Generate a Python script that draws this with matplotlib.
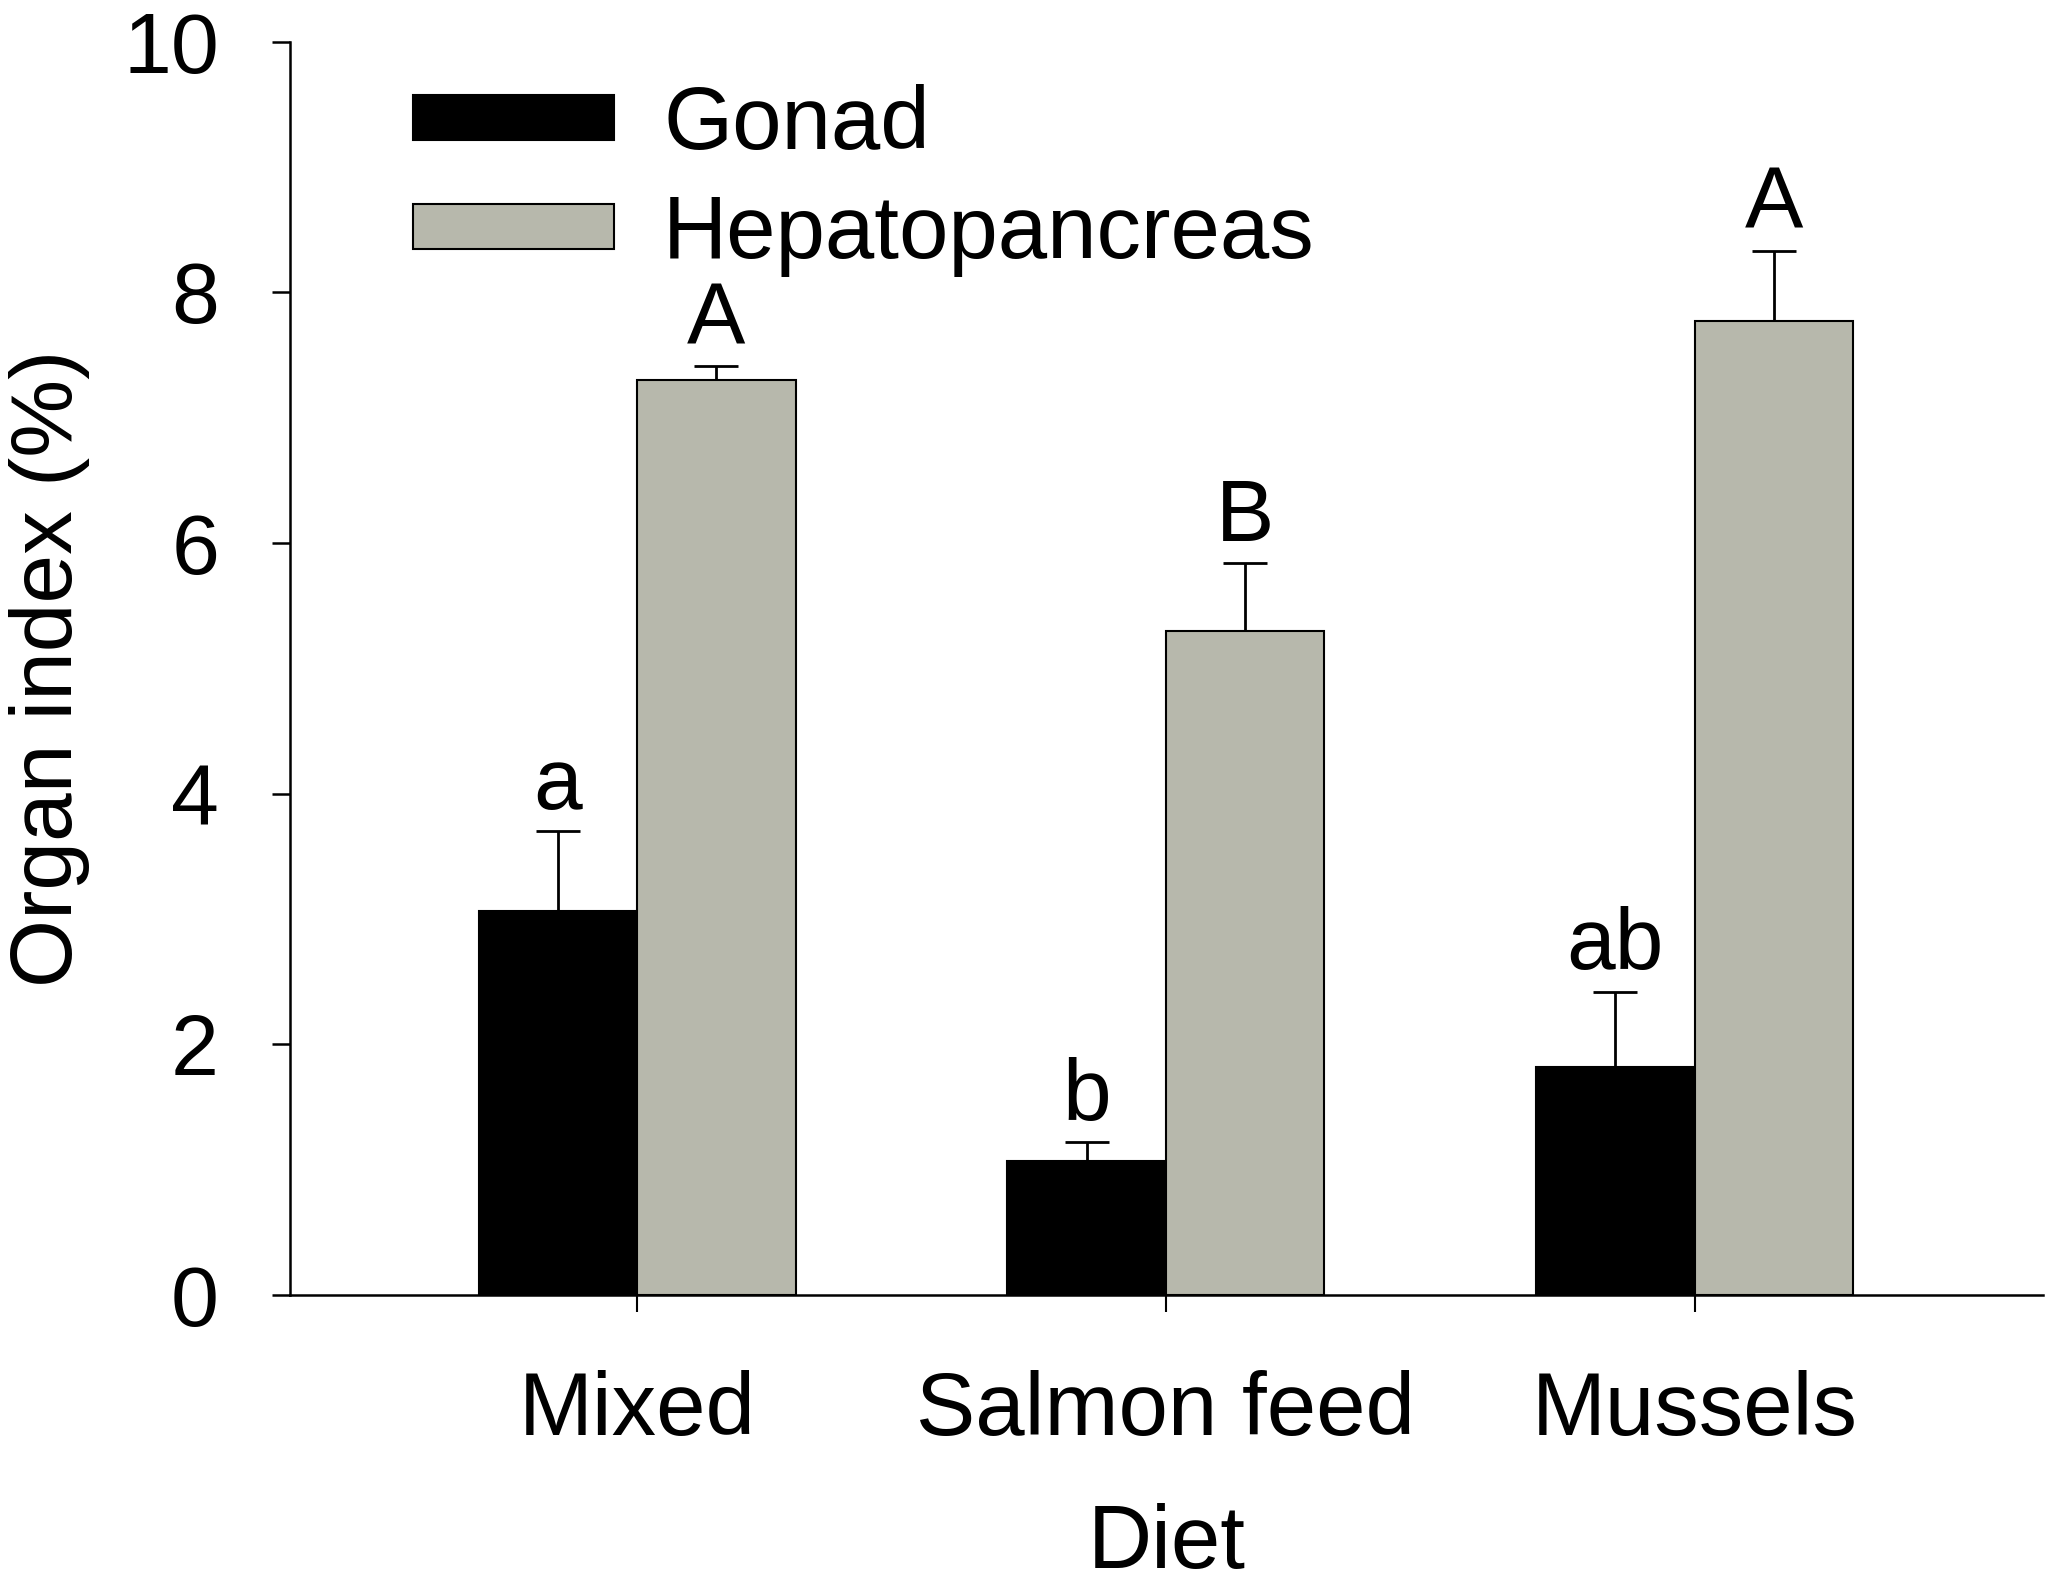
import matplotlib.pyplot as plt
import numpy as np

plt.rcParams['font.family'] = ['Liberation Sans', 'DejaVu Sans']

diets = ['Mixed', 'Salmon feed', 'Mussels']
gonad = [3.06, 1.07, 1.82]
gonad_err = [0.64, 0.15, 0.60]
hepato = [7.30, 5.30, 7.77]
hepato_err = [0.11, 0.54, 0.56]
gonad_letters = ['a', 'b', 'ab']
hepato_letters = ['A', 'B', 'A']

fig = plt.figure(figsize=(20.47, 15.86), dpi=100)
ax = fig.add_axes([0.1416, 0.1835, 0.998 - 0.1416, 0.9737 - 0.1835])

x = np.arange(len(diets))
w = 0.3
ekw = dict(lw=2.0, capsize=16, capthick=2.0, ecolor='black')

ax.bar(x - w/2, gonad, w, color='black', edgecolor='black', linewidth=1.5,
       label='Gonad', zorder=2)
ax.errorbar(x - w/2, gonad, yerr=[np.zeros(3), gonad_err], fmt='none', zorder=1, **ekw)
ax.bar(x + w/2, hepato, w, color='#b7b8ac', edgecolor='black', linewidth=1.5,
       label='Hepatopancreas', zorder=2)
ax.errorbar(x + w/2, hepato, yerr=[np.zeros(3), hepato_err], fmt='none', zorder=1, **ekw)

for i in range(len(diets)):
    ax.annotate(gonad_letters[i], (x[i] - w/2, gonad[i] + gonad_err[i]),
                xytext=(0, 16), textcoords='offset points',
                ha='center', va='baseline', fontsize=63)
    ax.annotate(hepato_letters[i], (x[i] + w/2, hepato[i] + hepato_err[i]),
                xytext=(0, 16), textcoords='offset points',
                ha='center', va='baseline', fontsize=63)

ax.set_xlim(-0.657, 2.659)
ax.set_ylim(0, 10)
ax.set_xticks(x)
ax.set_xticklabels(diets)
ax.set_yticks([0, 2, 4, 6, 8, 10])
ax.spines['top'].set_visible(False)
ax.spines['right'].set_visible(False)
for s in ['left', 'bottom']:
    ax.spines[s].set_linewidth(1.8)
ax.tick_params(axis='y', length=13, width=1.8, pad=38, labelsize=62)
ax.tick_params(axis='x', length=12, width=1.5, pad=42, labelsize=64)

ax.set_xlabel('Diet', fontsize=64, labelpad=35)
ax.set_ylabel('Organ index (%)', fontsize=63, labelpad=24)

ax.legend(loc='upper left', bbox_to_anchor=(0.07, 0.966), frameon=False,
          fontsize=64, handlelength=2.27, handleheight=0.4, handletextpad=0.55,
          labelspacing=0.28, borderpad=0, borderaxespad=0)

fig.savefig('out.png', dpi=100)
